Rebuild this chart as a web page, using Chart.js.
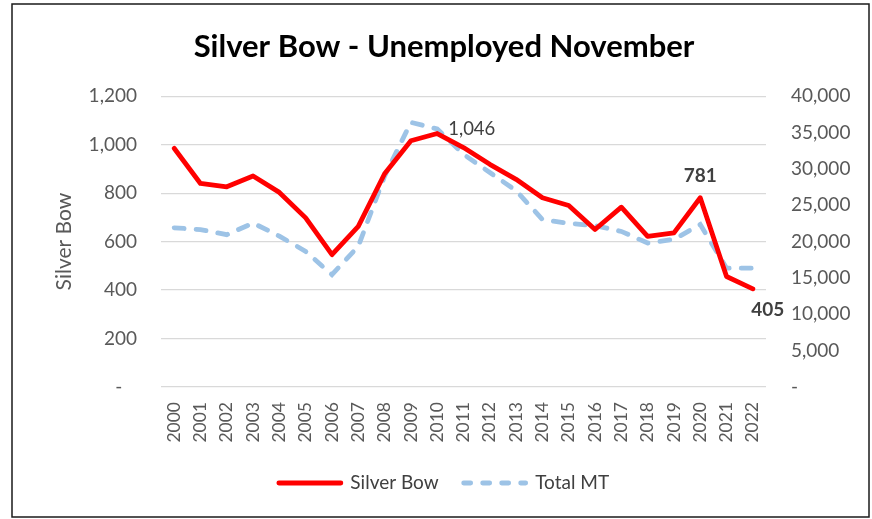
<!DOCTYPE html>
<html lang="en">
  <head>
    <meta charset="UTF-8" />
    <title>Silver Bow - Unemployed November</title>
    <script src="https://cdn.jsdelivr.net/npm/chart.js@4.4.1/dist/chart.umd.min.js"></script>
    <style>
      body {
        margin: 0;
        background: #fff;
      }
      #chart {
        display: block;
      }
    </style>
  </head>
  <body>
    <canvas id="chart" width="872" height="519"></canvas>

    <script>
      // ---- data ----
      const YEARS = [
        "2000", "2001", "2002", "2003", "2004", "2005", "2006", "2007",
        "2008", "2009", "2010", "2011", "2012", "2013", "2014", "2015",
        "2016", "2017", "2018", "2019", "2020", "2021", "2022",
      ];
      const SILVER_BOW = [
        985, 840, 826, 871, 803, 698, 546, 663, 880, 1016, 1046, 988,
        919, 857, 781, 749, 650, 742, 622, 636, 781, 456, 405,
      ];
      const TOTAL_MT = [
        21900, 21650, 20950, 22550, 20750, 18650, 15450, 19350, 29000,
        36400, 35500, 32000, 29500, 27000, 23050, 22500, 22200, 21400,
        19800, 20300, 22350, 16350, 16350,
      ];
      const LEFT_TICKS = { min: 0, max: 1200, step: 200 };
      const RIGHT_TICKS = { min: 0, max: 40000, step: 5000 };
      // points on the Silver Bow line that carry a value label
      const LABELLED = [10, 20, 22];

      const FONT = "Lato, 'Open Sans', sans-serif";
      const GREY = "#595959";

      const fmt = (v) => (v === 0 ? "-   " : v.toLocaleString("en-US"));

      // frame around the whole picture
      const framePlugin = {
        id: "frame",
        beforeDraw(chart) {
          const c = chart.ctx;
          c.save();
          c.fillStyle = "#fff";
          c.fillRect(0, 0, chart.width, chart.height);
          c.strokeStyle = "#1a1a1a";
          c.lineWidth = 1.5;
          c.strokeRect(12, 4, 857, 513);
          c.restore();
        },
      };

      // value labels on selected Silver Bow points
      const valueLabels = {
        id: "valueLabels",
        afterDatasetsDraw(chart) {
          const c = chart.ctx;
          const meta = chart.getDatasetMeta(0);
          c.save();
          c.fillStyle = "#404040";
          c.textBaseline = "middle";
          LABELLED.forEach((i, n) => {
            const pt = meta.data[i];
            const txt = SILVER_BOW[i].toLocaleString("en-US");
            if (n === 0) {
              c.font = `18.5px ${FONT}`;
              c.textAlign = "left";
              c.fillText(txt, pt.x + 11, pt.y - 4);
            } else if (n === 1) {
              c.font = `bold 19px ${FONT}`;
              c.textAlign = "center";
              c.fillText(txt, pt.x, pt.y - 22);
            } else {
              c.font = `bold 19px ${FONT}`;
              c.textAlign = "center";
              c.fillText(txt, pt.x + 15, pt.y + 21);
            }
          });
          c.restore();
        },
      };

      Chart.defaults.font.family = FONT;
      Chart.defaults.color = GREY;

      new Chart(document.getElementById("chart"), {
        type: "line",
        data: {
          labels: YEARS,
          datasets: [
            {
              label: "Silver Bow",
              data: SILVER_BOW,
              yAxisID: "y",
              borderColor: "#ff0000",
              backgroundColor: "#ff0000",
              borderWidth: 4.8,
              pointRadius: 0,
              tension: 0,
              borderCapStyle: "round",
              borderJoinStyle: "round",
              order: 0,
            },
            {
              label: "Total MT",
              data: TOTAL_MT,
              yAxisID: "y1",
              borderColor: "#9dc3e6",
              backgroundColor: "#9dc3e6",
              borderWidth: 4.8,
              borderDash: [10, 12],
              borderCapStyle: "round",
              pointRadius: 0,
              tension: 0,
              order: 1,
            },
          ],
        },
        plugins: [framePlugin, valueLabels],
        options: {
          responsive: false,
          animation: false,
          devicePixelRatio: 1,
          layout: { padding: { left: 16, right: 0, top: 10, bottom: 16.5 } },
          scales: {
            x: {
              offset: true,
              grid: { display: false, drawTicks: false, offset: true },
              border: { display: false },
              ticks: {
                minRotation: 90,
                maxRotation: 90,
                autoSkip: false,
                padding: 15,
                font: { size: 17.5 },
              },
              afterFit: (s) => {
                s.height = 61.5;
              },
            },
            y: {
              position: "left",
              min: LEFT_TICKS.min,
              max: LEFT_TICKS.max,
              grid: { color: "#d9d9d9", lineWidth: 1.2, drawTicks: false },
              border: { display: false },
              ticks: {
                stepSize: LEFT_TICKS.step,
                padding: 24,
                font: { size: 19 },
                callback: (v) => fmt(v),
              },
              title: {
                display: true,
                text: "Silver Bow",
                font: { size: 21 },
                color: GREY,
                padding: { top: 36, bottom: 4 },
              },
              afterFit: (s) => {
                s.width = 145;
              },
            },
            y1: {
              position: "right",
              min: RIGHT_TICKS.min,
              max: RIGHT_TICKS.max,
              grid: { display: false, drawTicks: false },
              border: { display: false },
              ticks: {
                stepSize: RIGHT_TICKS.step,
                padding: 25,
                font: { size: 19 },
                callback: (v) => fmt(v),
              },
              afterFit: (s) => {
                s.width = 106;
              },
            },
          },
          plugins: {
            title: {
              display: true,
              text: "Silver Bow - Unemployed November",
              color: "#000",
              font: { size: 31, weight: "bold" },
              padding: { top: 18, bottom: 31 },
            },
            legend: {
              position: "bottom",
              labels: {
                usePointStyle: true,
                pointStyle: "line",
                pointStyleWidth: 62,
                boxHeight: 19.5,
                padding: 25,
                color: "#404040",
                font: { size: 19 },
                generateLabels: (chart) =>
                  chart.data.datasets.map((ds, i) => ({
                    text: ds.label,
                    datasetIndex: i,
                    strokeStyle: ds.borderColor,
                    fillStyle: ds.borderColor,
                    lineWidth: ds.borderWidth,
                    lineDash: ds.borderDash ? [7, 12] : [],
                    lineCap: "round",
                    pointStyle: "line",
                    fontColor: "#404040",
                  })),
              },
            },
            tooltip: { enabled: false },
          },
        },
      });
    </script>
  </body>
</html>
